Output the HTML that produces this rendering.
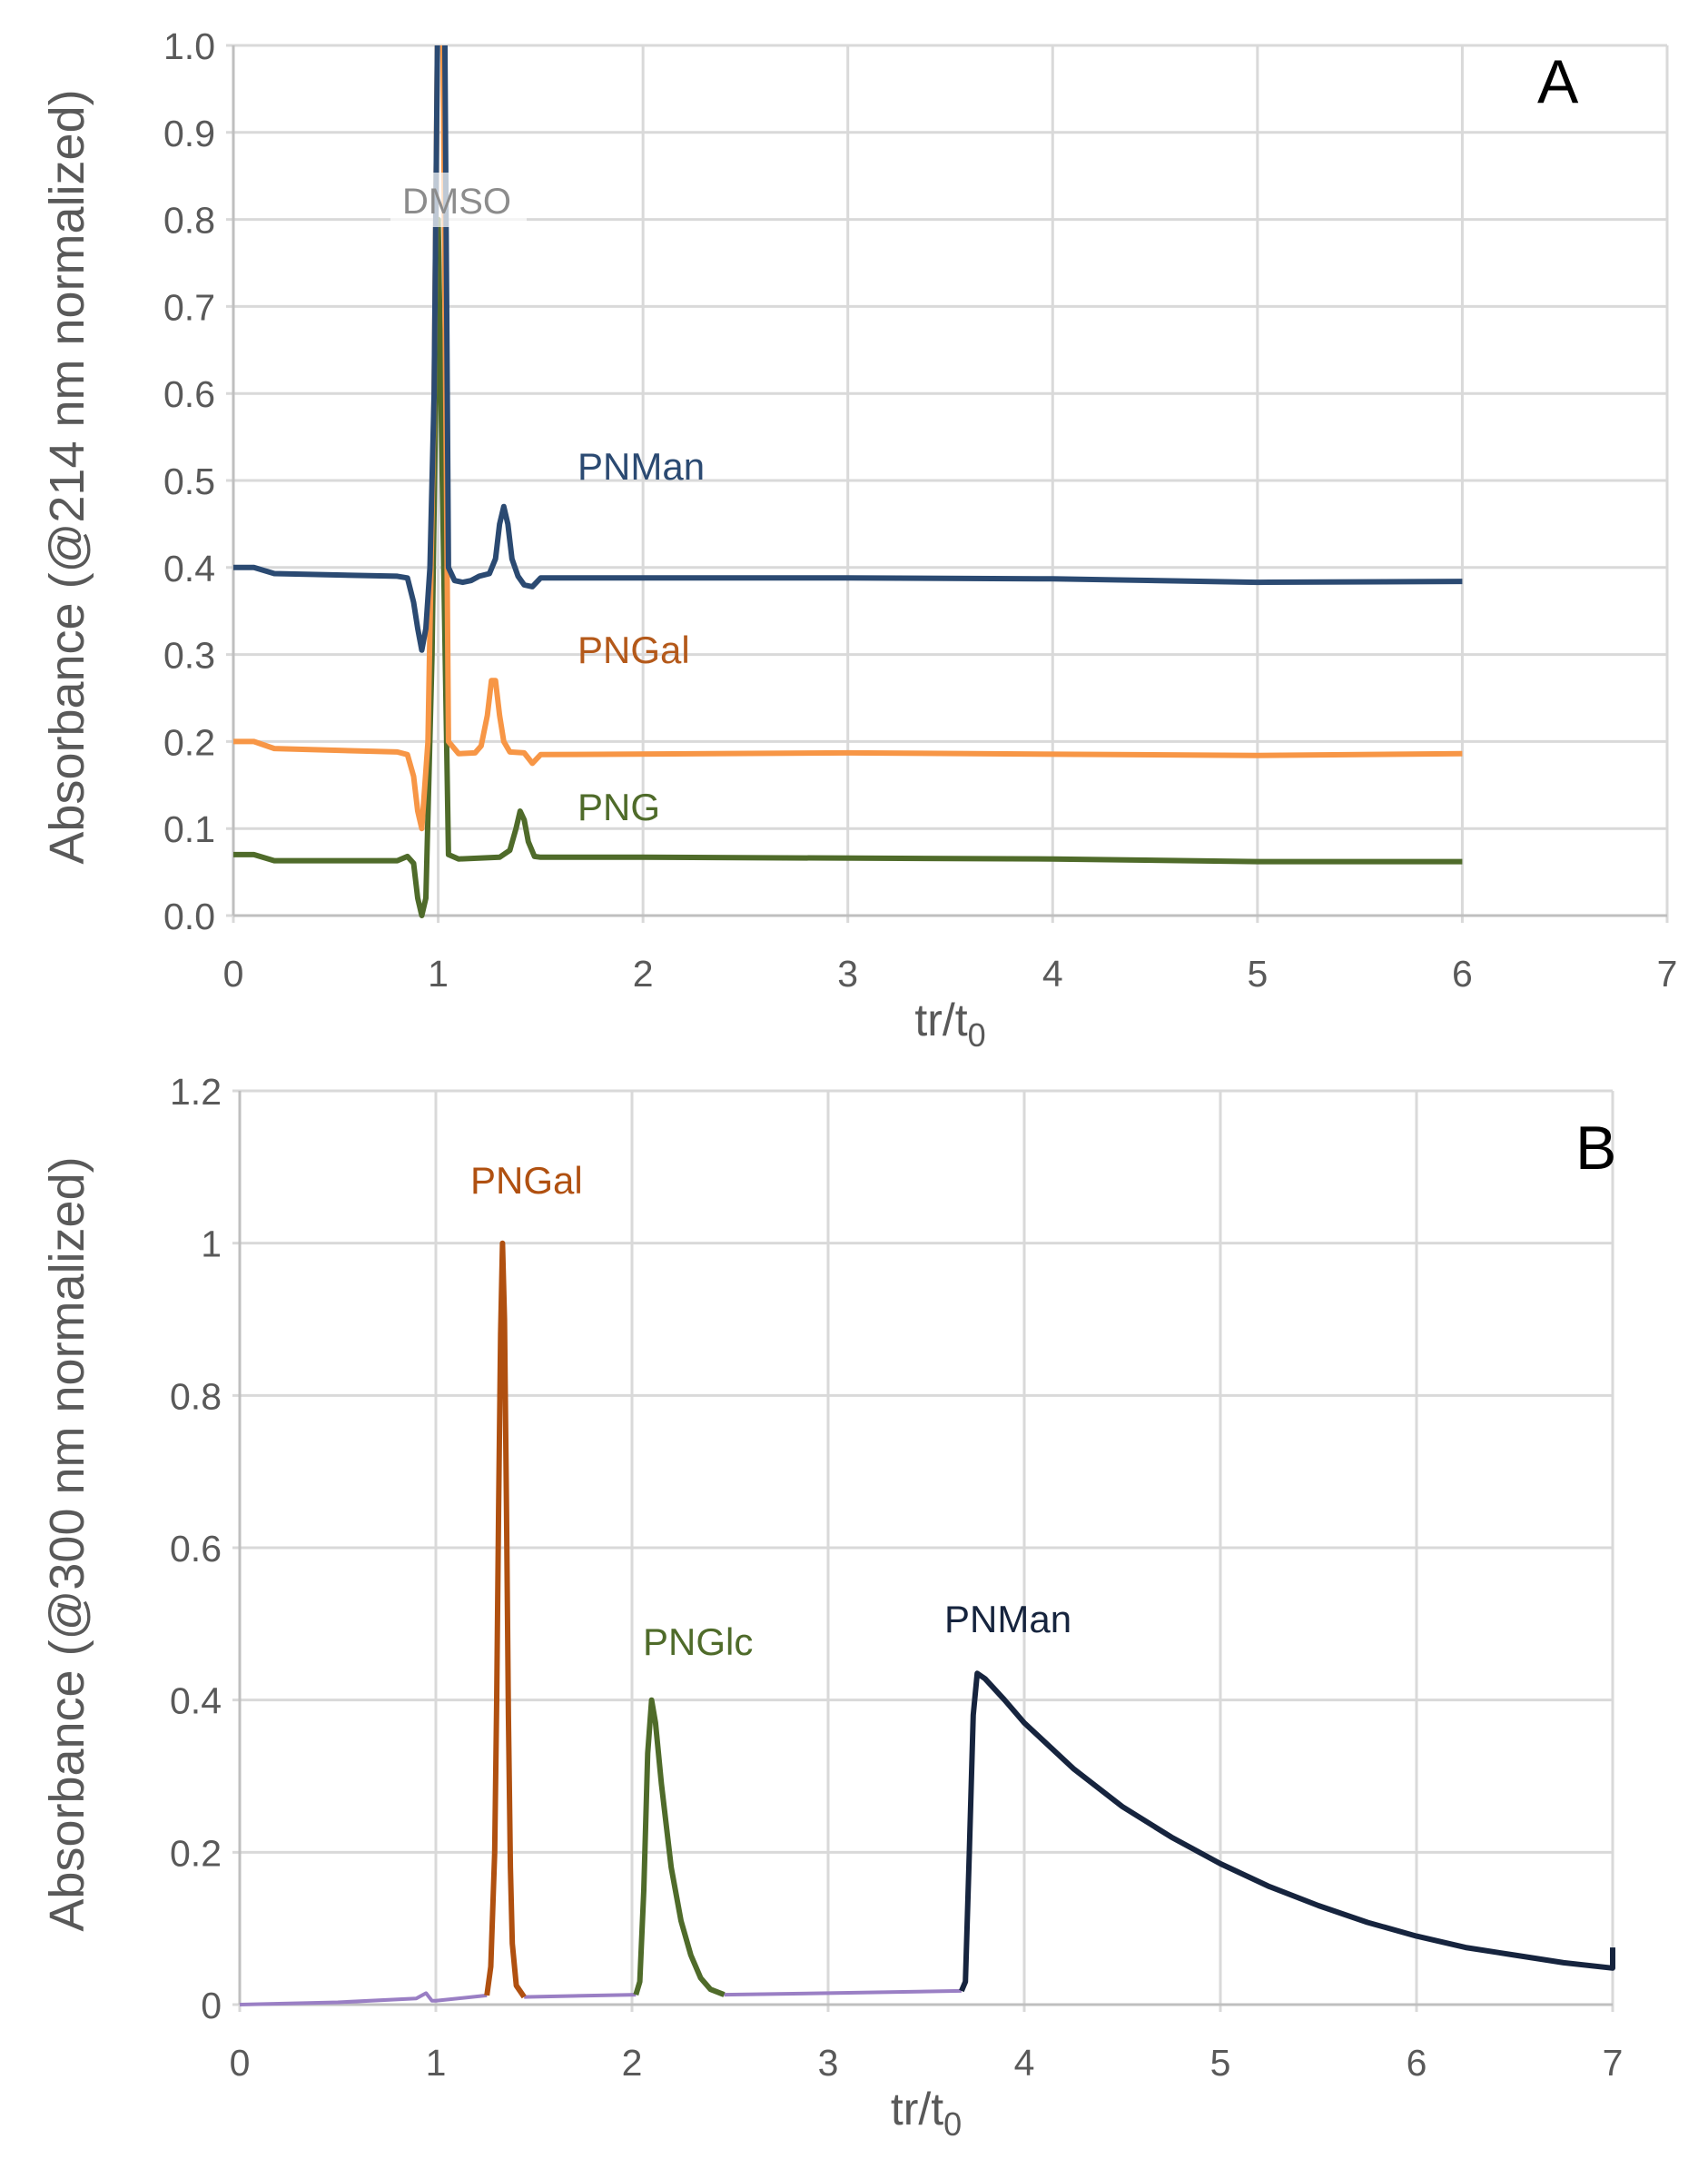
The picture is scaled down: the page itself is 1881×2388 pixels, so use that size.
<!DOCTYPE html>
<html><head><meta charset="utf-8"><style>
body{margin:0;background:#fff}
svg text{font-family:"Liberation Sans",sans-serif}
</style></head><body>
<svg id="fig" width="1881" height="2383" viewBox="0 0 1881 2383" xmlns="http://www.w3.org/2000/svg">
<defs>
<clipPath id="clipA"><rect x="250" y="50" width="1600" height="980"/></clipPath>
</defs>
<g id="chartA"></g>
<g id="chartB"></g>
</svg>
<script>
// ---- Chart A data ----
const aXTicks=[0,1,2,3,4,5,6,7];
const aYTicks=["0.0","0.1","0.2","0.3","0.4","0.5","0.6","0.7","0.8","0.9","1.0"];
const aManX=[0,0.1,0.2,0.8,0.85,0.88,0.9,0.92,0.94,0.96,0.98,1.0,1.03,1.05,1.08,1.12,1.16,1.2,1.25,1.28,1.3,1.32,1.34,1.36,1.39,1.42,1.46,1.5,2,3,4,5,6];
const aManY=[0.40,0.40,0.393,0.39,0.388,0.36,0.33,0.305,0.33,0.4,0.6,1.1,1.1,0.4,0.385,0.383,0.385,0.39,0.393,0.41,0.45,0.47,0.45,0.41,0.39,0.38,0.378,0.388,0.388,0.388,0.387,0.383,0.384];
const aGalX=[0,0.1,0.2,0.8,0.85,0.88,0.9,0.92,0.95,0.98,1.0,1.02,1.05,1.1,1.18,1.21,1.24,1.26,1.28,1.3,1.32,1.35,1.42,1.46,1.5,3,5,6];
const aGalY=[0.2,0.2,0.192,0.188,0.185,0.16,0.12,0.10,0.2,0.6,1.1,1.1,0.2,0.186,0.187,0.195,0.23,0.27,0.27,0.23,0.2,0.188,0.187,0.175,0.185,0.187,0.184,0.186];
const aPngX=[0,0.1,0.2,0.8,0.85,0.88,0.9,0.92,0.94,0.97,1.0,1.02,1.05,1.1,1.3,1.35,1.38,1.4,1.42,1.44,1.47,1.5,2,4,5,6];
const aPngY=[0.07,0.07,0.063,0.063,0.068,0.06,0.02,0.0,0.02,0.3,0.8,0.5,0.07,0.065,0.067,0.075,0.1,0.12,0.11,0.085,0.068,0.067,0.067,0.065,0.062,0.062];
// ---- Chart B data ----
const bXTicks=[0,1,2,3,4,5,6,7];
const bYTicks=["0","0.2","0.4","0.6","0.8","1","1.2"];
const bBaseX=[0,0.5,0.9,0.95,0.98,1.0,1.26,null,1.45,2.02,null,2.47,3,3.68];
const bBaseY=[0,0.003,0.008,0.015,0.005,0.005,0.012,null,0.01,0.013,null,0.013,0.015,0.018];
const bGalX=[1.26,1.28,1.30,1.31,1.32,1.33,1.34,1.35,1.36,1.37,1.38,1.39,1.41,1.45];
const bGalY=[0.012,0.05,0.2,0.4,0.65,0.88,1.0,0.9,0.65,0.38,0.18,0.08,0.025,0.01];
const bGlcX=[2.02,2.04,2.06,2.08,2.1,2.12,2.15,2.2,2.25,2.3,2.35,2.4,2.47];
const bGlcY=[0.013,0.03,0.15,0.33,0.4,0.37,0.29,0.18,0.11,0.065,0.035,0.02,0.013];
const bManX=[3.68,3.7,3.72,3.74,3.76,3.8,3.9,4,4.25,4.5,4.75,5,5.25,5.5,5.75,6,6.25,6.5,6.75,7,7];
const bManY=[0.018,0.03,0.2,0.38,0.435,0.428,0.4,0.37,0.31,0.26,0.22,0.185,0.155,0.13,0.108,0.09,0.075,0.065,0.055,0.048,0.075];

const NS="http://www.w3.org/2000/svg";
function mk(parent,tag,attrs,text){const e=document.createElementNS(NS,tag);for(const k in attrs)e.setAttribute(k,attrs[k]);if(text!==undefined)e.textContent=text;parent.appendChild(e);return e;}

function drawAxes(g,x0,x1,y0,y1,ymax,xTicks,yTicks,ytitle,titleY){
  const sx=v=>x0+(x1-x0)*v/7, sy=v=>y0-(y0-y1)*v/ymax;
  yTicks.forEach(t=>{const v=parseFloat(t);const y=sy(v);
    const l=mk(g,'line',{x1:x0-8,x2:x1,y1:y,y2:y,stroke:'#d9d9d9','stroke-width':3});
    
    
    const tx=mk(g,'text',{x:x0-20,y:y+15,'text-anchor':'end','font-size':41,fill:'#595959'},t);
    
    
  });
  xTicks.forEach(t=>{const x=sx(t);
    const l=mk(g,'line',{x1:x,x2:x,y1:y1,y2:y0+8,stroke:'#d9d9d9','stroke-width':3});
    
    
    const tx=mk(g,'text',{x:x,y:y0+78,'text-anchor':'middle','font-size':41,fill:'#595959'},String(t));
    
    
  });
  const ax=mk(g,'line',{x1:x0,x2:x1,y1:y0,y2:y0,stroke:'#bfbfbf','stroke-width':3});
  
  
  const ay=mk(g,'line',{x1:x0,x2:x0,y1:y1,y2:y0,stroke:'#bfbfbf','stroke-width':3});
  
  
  const xt=mk(g,'text',{x:(x0+x1)/2,y:y0+132,'text-anchor':'middle','font-size':50,fill:'#595959'});
  
  
  xt.innerHTML='tr/t<tspan font-size="36" dy="12">0</tspan>';
  const yt=mk(g,'text',{x:0,y:0,'text-anchor':'middle','font-size':54,fill:'#595959',transform:`translate(92,${titleY}) rotate(-90)`},ytitle);
  
  
  return [sx,sy];
}
function series(g,xs,ys,sx,sy,color,w,name,clip){
  let d='',pen=false;
  for(let i=0;i<xs.length;i++){if(xs[i]===null){pen=false;continue;}
    d+=(pen?'L':'M')+sx(xs[i]).toFixed(1)+','+sy(ys[i]).toFixed(1);pen=true;}
  const p=mk(g,'path',{d:d,fill:'none',stroke:color,'stroke-width':w,'stroke-linejoin':'round'});
  if(clip)p.setAttribute('clip-path','url(#clipA)');
  
  
}
function label(g,x,y,txt,color,size,name){
  const t=mk(g,'text',{x:x,y:y,'font-size':size,fill:color},txt);
  
  
  return t;
}
// Chart A
const gA=document.getElementById('chartA');
const [ax,ay]=drawAxes(gA,257,1836,1008,50,1.0,aXTicks,aYTicks,'Absorbance (@214 nm normalized)',525);
series(gA,aPngX,aPngY,ax,ay,'#4f6b2a',6,'png-line',true);
series(gA,aGalX,aGalY,ax,ay,'#f79646',6,'pngal-line',true);
series(gA,aManX,aManY,ax,ay,'#2b4a72',6,'pnman-line',true);
const box=mk(gA,'rect',{x:430,y:190,width:150,height:60,fill:'#fff',opacity:0.7});


label(gA,443,235,'DMSO','#8c8c8c',40,'dmso-label');
label(gA,636,528,'PNMan','#2b4a72',42,'pnman-label');
label(gA,636,730,'PNGal','#b4591a',42,'pngal-label');
label(gA,636,903,'PNG','#4f6b2a',42,'png-label');
label(gA,1693,113,'A','#000',68,'panel-a-label');
// Chart B
const gB=document.getElementById('chartB');
const [bx,by]=drawAxes(gB,264,1776,2207,1201,1.2,bXTicks,bYTicks,'Absorbance (@300 nm normalized)',1700);
series(gB,bBaseX,bBaseY,bx,by,'#9a7fc4',4,'baseline-line',false);
series(gB,bGalX,bGalY,bx,by,'#b05010',6,'pngal-line',false);
series(gB,bGlcX,bGlcY,bx,by,'#4f6b2a',6,'pnglc-line',false);
series(gB,bManX,bManY,bx,by,'#16243e',6,'pnman-line',false);
label(gB,518,1314,'PNGal','#b05010',42,'pngal-label');
label(gB,708,1822,'PNGlc','#4f6b2a',42,'pnglc-label');
label(gB,1040,1797,'PNMan','#16243e',42,'pnman-label');
label(gB,1735,1287,'B','#000',68,'panel-b-label');
</script>
</body></html>
